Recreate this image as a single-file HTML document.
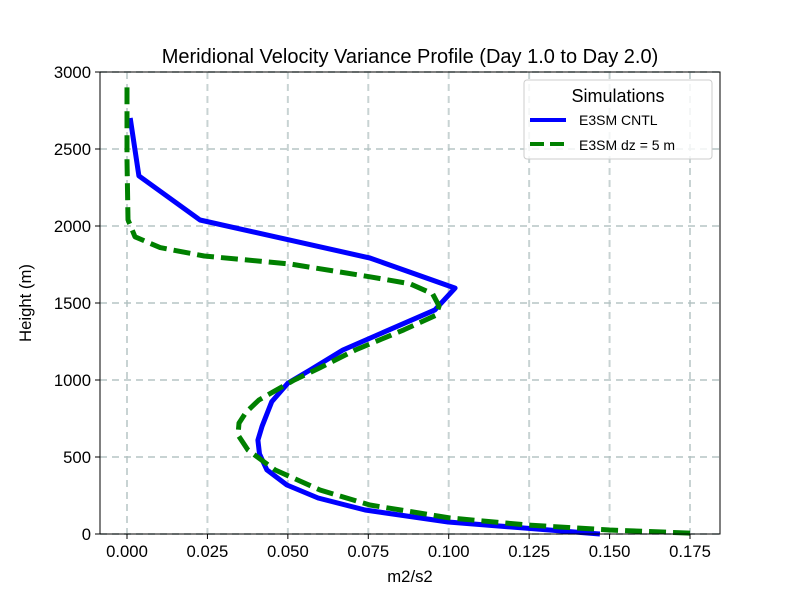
<!DOCTYPE html>
<html><head><meta charset="utf-8"><style>
body{margin:0;background:#fff;}
svg text{font-family:"Liberation Sans","DejaVu Sans",sans-serif;fill:#000;}
</style></head><body>
<svg id="chart" width="800" height="600">
<rect width="800" height="600" fill="#fff"/>
<g id="grid"></g>
<g id="series"></g>
<rect x="100" y="72" width="620" height="462" fill="none" stroke="#000" stroke-width="1"/>
<g id="axes"></g>
<text x="410" y="63" text-anchor="middle" font-size="20">Meridional Velocity Variance Profile (Day 1.0 to Day 2.0)</text>
<text x="410" y="582" text-anchor="middle" font-size="16.7">m2/s2</text>
<text transform="translate(31,303) rotate(-90)" text-anchor="middle" font-size="16.7">Height (m)</text>
<g>
<rect x="524" y="80" width="188" height="79" rx="3" fill="#fff" fill-opacity="0.8" stroke="#ccc"/>
<text x="618" y="102" text-anchor="middle" font-size="18">Simulations</text>
<line x1="530" y1="120" x2="566" y2="120" stroke="#0000ff" stroke-width="4"/>
<text x="579" y="125" font-size="14">E3SM CNTL</text>
<line x1="530" y1="144" x2="566" y2="144" stroke="#008000" stroke-width="4" stroke-dasharray="14,6"/>
<text x="579" y="150" font-size="14">E3SM dz = 5 m</text>
</g>
</svg>
<script>
const xTicks=[0,0.025,0.05,0.075,0.1,0.125,0.15,0.175];
const xTickLabels=["0.000","0.025","0.050","0.075","0.100","0.125","0.150","0.175"];
const yTicks=[0,500,1000,1500,2000,2500,3000];
const cntlValues=[0.147,0.0998,0.074,0.0594,0.0497,0.0435,0.0412,0.0407,0.042,0.045,0.050,0.0569,0.0671,0.0957,0.102,0.0755,0.0227,0.0037,0.001];
const cntlHeights=[0,78,156,234,318,416,520,610,700,860,980,1065,1195,1455,1597,1792,2039,2325,2701];
const dz5Values=[0.175,0.150,0.125,0.1004,0.0755,0.06,0.046,0.0376,0.0345,0.0348,0.037,0.041,0.046,0.052,0.060,0.071,0.086,0.096,0.097,0.095,0.088,0.0755,0.0507,0.024,0.0103,0.0025,0.0003,0,0];
const dz5Heights=[6,26,58,104,188,286,416,545,643,720,790,870,930,1000,1080,1195,1325,1420,1480,1560,1625,1670,1753,1805,1860,1930,2040,2430,2900];
const X=v=>127+v*(563/0.175);
const Y=h=>534-h*(462/3000);
const NS="http://www.w3.org/2000/svg";
const grid=document.getElementById('grid'),axes=document.getElementById('axes'),ser=document.getElementById('series');
function mk(tag,attrs,parent){const e=document.createElementNS(NS,tag);for(const k in attrs)e.setAttribute(k,attrs[k]);parent.appendChild(e);return e;}
xTicks.forEach((t,i)=>{
 const x=X(t);
 const g=mk('line',{x1:x,y1:72,x2:x,y2:534,stroke:'#b0c0c0','stroke-width':2,'stroke-dasharray':'7,5','stroke-opacity':0.7},grid);
 
 
 const tk=mk('line',{x1:x,y1:534,x2:x,y2:539,stroke:'#000'},axes);
 
 
 const tx=mk('text',{x:x,y:557,'text-anchor':'middle','font-size':16.7},axes);
 tx.textContent=xTickLabels[i];
 
 
});
yTicks.forEach(t=>{
 const y=Y(t);
 const g=mk('line',{x1:100,y1:y,x2:720,y2:y,stroke:'#b0c0c0','stroke-width':2,'stroke-dasharray':'7,5','stroke-opacity':0.7},grid);
 
 
 const tk=mk('line',{x1:95,y1:y,x2:100,y2:y,stroke:'#000'},axes);
 
 
 const tx=mk('text',{x:91,y:y+6,'text-anchor':'end','font-size':16.7},axes);
 tx.textContent=String(t);
 
 
});
function pts(vs,hs){return vs.map((v,i)=>X(v).toFixed(1)+','+Y(hs[i]).toFixed(1)).join(' ');}
const l1=mk('polyline',{points:pts(cntlValues,cntlHeights),fill:'none',stroke:'#0000ff','stroke-width':5,'stroke-linejoin':'round'},ser);


const l2=mk('polyline',{points:pts(dz5Values,dz5Heights),fill:'none',stroke:'#008000','stroke-width':5,'stroke-dasharray':'17,7','stroke-linejoin':'round'},ser);


</script>
</body></html>
